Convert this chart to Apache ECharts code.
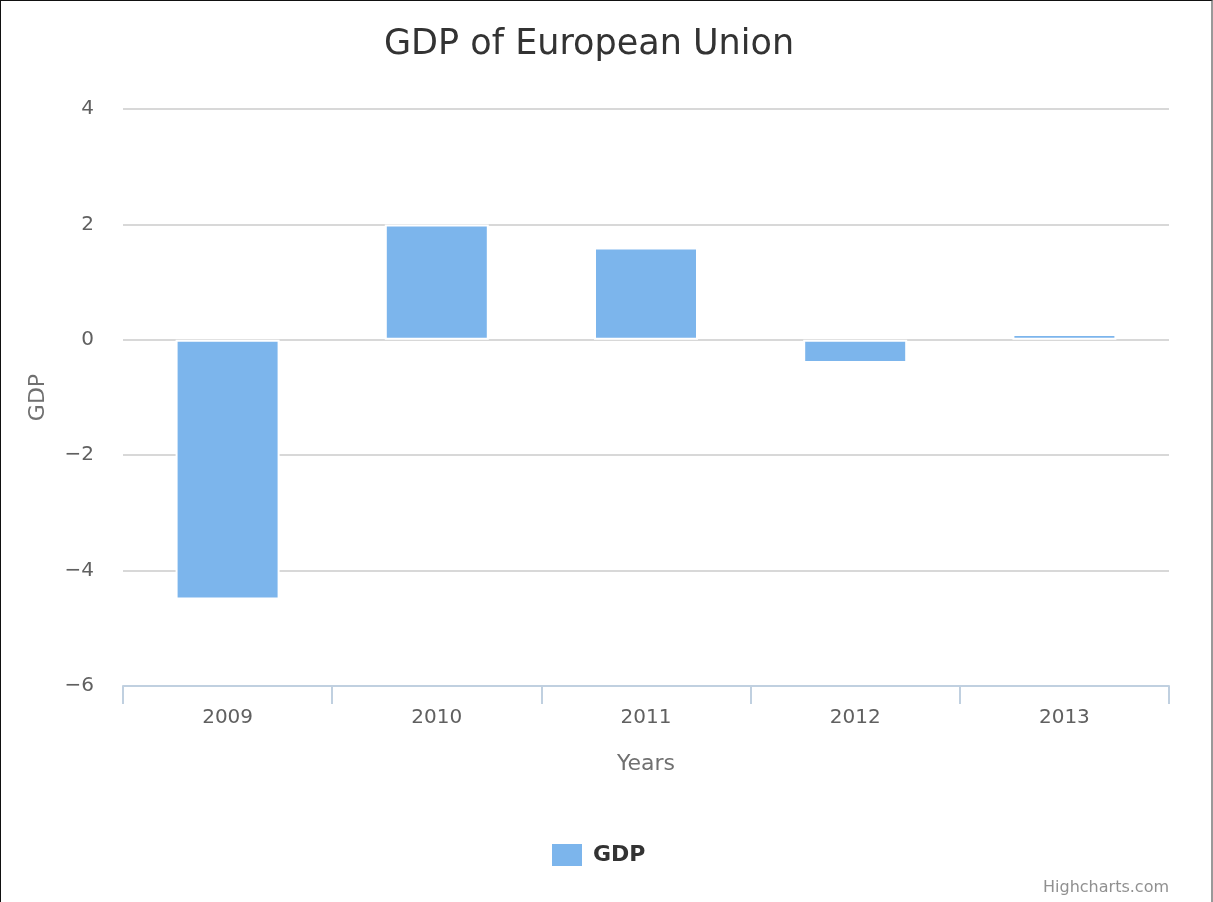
<!DOCTYPE html>
<html>
<head>
<meta charset="utf-8">
<script src="https://cdn.jsdelivr.net/npm/echarts@6/dist/echarts.min.js"></script>
<style>
html,body{margin:0;padding:0;background:#fff;}
#frame{position:absolute;left:0;top:0;width:1213px;height:902px;box-sizing:border-box;border-left:1px solid #111;border-top:1px solid #111;border-right:2px solid #999;}
#chart{position:absolute;left:0;top:0;width:1213px;height:902px;}
</style>
</head>
<body>
<div id="chart"></div>
<div id="frame"></div>
<script>
const categories = ['2009', '2010', '2011', '2012', '2013'];
const gdpValues = [-4.5, 2.0, 1.6, -0.4, 0.1];
const seriesName = 'GDP';

const FONT = '"DejaVu Sans", Verdana, sans-serif';
const chart = echarts.init(document.getElementById('chart'), null, {renderer: 'canvas'});
chart.setOption({
  animation: false,
  backgroundColor: '#fff',
  title: {
    text: 'GDP of European Union',
    left: 384,
    top: 27,
    padding: 0,
    textStyle: {fontFamily: FONT, fontSize: 35, fontWeight: 'normal', color: '#333333'}
  },
  legend: {
    data: [seriesName],
    left: 550,
    top: 842,
    padding: 0,
    icon: 'rect',
    itemWidth: 32,
    itemHeight: 24,
    itemGap: 10,
    textStyle: {fontFamily: FONT, fontSize: 22, fontWeight: 'bold', color: '#333333', padding: [0, 0, 0, 5]}
  },
  grid: {left: 123, right: 44, top: 109, bottom: 216, containLabel: false},
  xAxis: {
    type: 'category',
    data: categories,
    name: 'Years',
    nameLocation: 'middle',
    nameGap: 67,
    nameTextStyle: {fontFamily: FONT, fontSize: 22, color: '#707070'},
    axisLine: {show: true, onZero: false, lineStyle: {color: '#c0d0e0', width: 2}},
    axisTick: {show: true, length: 18, lineStyle: {color: '#c0d0e0', width: 2}},
    axisLabel: {fontFamily: FONT, fontSize: 20, color: '#606060', margin: 22}
  },
  yAxis: {
    type: 'value',
    min: -6,
    max: 4,
    interval: 2,
    name: 'GDP',
    nameLocation: 'middle',
    nameGap: 74,
    nameTextStyle: {fontFamily: FONT, fontSize: 22, color: '#707070'},
    axisLine: {show: false},
    axisTick: {show: false},
    axisLabel: {
      fontFamily: FONT, fontSize: 20, color: '#606060', margin: 29,
      formatter: v => String(v).replace('-', '\u2212')
    },
    splitLine: {show: true, lineStyle: {color: '#d8d8d8', width: 2}}
  },
  series: [{
    name: seriesName,
    type: 'bar',
    data: gdpValues,
    barWidth: 104,
    itemStyle: {color: '#7cb5ec', borderColor: '#ffffff', borderWidth: 2}
  }],
  graphic: [{
    type: 'text',
    right: 44,
    top: 880,
    style: {text: 'Highcharts.com', fontFamily: FONT, fontSize: 16, fill: '#909090'}
  }]
});
</script>
</body>
</html>
